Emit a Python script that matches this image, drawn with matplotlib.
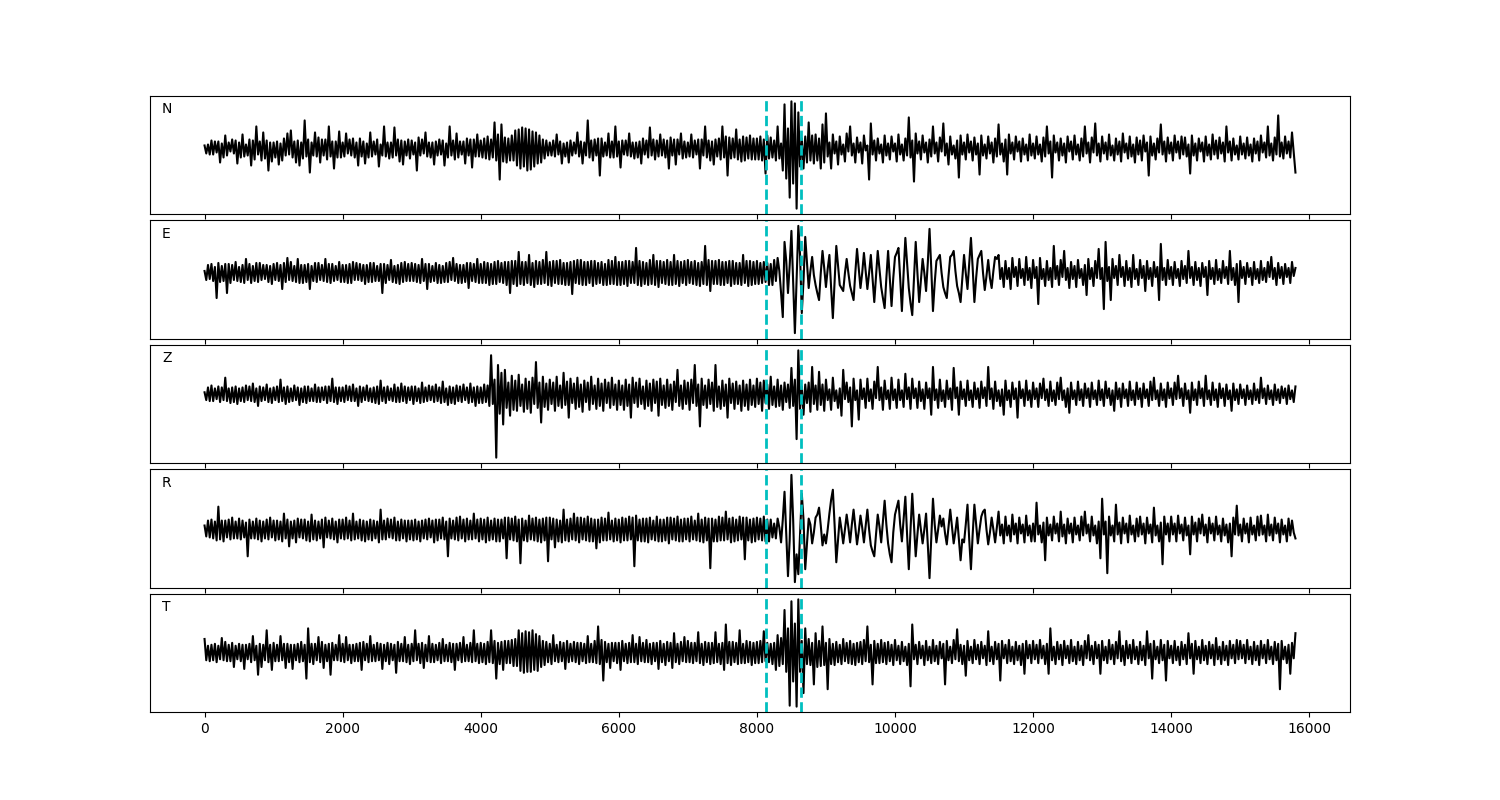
import numpy as np
import matplotlib
matplotlib.use("Agg")
import matplotlib.pyplot as plt

# one sample every 25 points
sample_step = 25
pick_times = [8130, 8635]
channels = ["N", "E", "Z", "R", "T"]

trace_n = [
    3, -5, 4, -6, 8, -6, 7, -4, 7, -14, 5, -9, 13, -7, 6, -3, 9, -5, 8, -15, 6, -9, 14, -8, 4, -7, 9, -17, 8, -11, 22, -6, 7, -12, 16, -10, 8, -22, 6, -13,
    6, -9, 7, -16, 5, -12, 10, -7, 15, -6, 18, -9, 7, -14, 8, -17, 6, -10, 28, -8, 9, -24, 6, -7, 16, -8, 11, -14, 9, -7, 9, -11, 22, -8, 7, -20, 7, -9, 17, -9,
    6, -8, 15, -5, 9, -7, 10, -9, 6, -17, 10, -8, 7, -15, 5, -9, 16, -8, 7, -6, 9, -18, 4, -7, 22, -8, 6, -10, 6, -9, 21, -7, 9, -13, 8, -16, 7, -7, 9, -10,
    8, -6, 6, -22, 11, -7, 9, -5, 16, -8, 6, -9, 6, -16, 7, -7, 9, -6, 8, -17, 5, -9, 22, -7, 8, -11, 15, -9, 7, -6, 7, -15, 10, -7, 9, -19, 9, -8, 14, -8,
    8, -9, 10, -10, 12, -11, 9, -9, 26, -12, 14, -31, 24, -13, 11, -14, 10, -12, 13, -12, 18, -17, 19, -20, 21, -18, 20, -22, 19, -21, 17, -18, 16, -15, 13, -14, 9, -10, 8, -7,
    6, -7, 8, -8, 14, -6, 7, -15, 5, -8, 6, -14, 8, -7, 6, -5, 16, -8, 7, -15, 6, -7, 28, -9, 8, -12, 9, -7, 10, -27, 10, -8, 6, -7, 15, -9, 7, -9, 22, -8,
    7, -19, 8, -6, 8, -7, 15, -8, 6, -10, 6, -9, 7, -15, 10, -6, 8, -9, 21, -7, 9, -11, 8, -8, 14, -7, 9, -9, 8, -20, 11, -7, 9, -16, 9, -6, 15, -10, 7, -9,
    6, -8, 14, -9, 8, -6, 9, -20, 9, -7, 22, -9, 8, -12, 7, -16, 9, -8, 10, -11, 22, -9, 12, -27, 11, -10, 10, -9, 19, -11, 9, -13, 12, -12, 11, -10, 13, -11, 10, -11,
    10, -11, 12, -12, 9, -25, 13, -10, 11, -9, 8, -12, 22, -10, 5, -22, 44, -30, 20, -49, 47, -35, 45, -60, 36, -18, 10, -20, 12, -14, 26, -12, 13, -15, 14, -12, 10, -20, 24, -14,
    35, -8, 6, -20, 14, -5, 7, -16, 12, -6, 4, -13, 15, -3, 22, -7, 5, -14, 11, -4, 6, -15, 13, -2, 3, -31, 25, -6, 8, -12, 10, -5, 4, -14, 13, -7, 5, -11, 12, -3,
    5, -13, 14, -6, 4, -12, 10, -7, 31, -9, 8, -33, 15, -5, 7, -11, 13, -4, 6, -14, 9, -8, 22, -5, 6, -13, 11, -3, 25, -7, 5, -16, 12, -6, 3, -10, 8, -29, 13, -6,
    6, -11, 14, -4, 7, -12, 11, -6, 5, -26, 13, -7, 4, -10, 12, -5, 6, -14, 10, -8, 24, -6, 5, -13, 9, -26, 14, -5, 6, -11, 12, -3, 7, -13, 10, -6, 4, -12, 14, -7,
    5, -10, 12, -6, 4, -13, 11, -8, 22, -5, 7, -29, 13, -4, 6, -12, 10, -7, 5, -14, 12, -3, 7, -11, 13, -6, 4, -12, 10, -8, 22, -5, 6, -14, 11, -4, 25, -7, 5, -13,
    12, -5, 6, -11, 14, -7, 3, -12, 10, -6, 7, -13, 15, -4, 5, -10, 12, -8, 4, -14, 11, -6, 8, -12, 13, -3, 6, -27, 12, -7, 5, -11, 10, -4, 24, -6, 7, -13, 11, -5,
    6, -12, 13, -4, 7, -10, 12, -6, 11, -8, 4, -25, 13, -7, 5, -12, 10, -3, 6, -13, 12, -7, 4, -11, 14, -6, 8, -10, 11, -5, 6, -13, 22, -4, 7, -12, 10, -6, 3, -11,
    12, -6, 5, -10, 11, -7, 4, -13, 10, -5, 7, -12, 13, -4, 6, -9, 22, -7, 5, -12, 11, -6, 33, -8, 6, -10, 12, -5, 7, -9, 16, -4, -24,
]

trace_e = [
    2, -7, 8, -6, 9, -8, 6, -25, 10, -9, 7, -8, 9, -20, 9, -10, 8, -7, 11, -8, 6, -9, 8, -10, 14, -7, 9, -10, 7, -8, 10, -9, 10, -7, 8, -6, 8, -9, 7, -11,
    9, -7, 10, -8, 8, -16, 10, -9, 15, -7, 11, -8, 7, -9, 14, -10, 8, -10, 8, -9, 9, -16, 7, -8, 10, -9, 10, -7, 8, -8, 14, -9, 9, -10, 9, -8, 7, -7, 11, -9,
    8, -9, 8, -10, 9, -10, 11, -7, 10, -7, 9, -8, 8, -11, 8, -9, 10, -9, 10, -8, 7, -8, 9, -20, 9, -10, 8, -7, 13, -9, 7, -10, 8, -11, 10, -9, 11, -8, 9, -8,
    10, -8, 9, -9, 8, -10, 14, -8, 9, -16, 9, -9, 7, -8, 10, -10, 8, -10, 7, -9, 10, -9, 11, -7, 15, -8, 9, -10, 8, -10, 8, -9, 10, -15, 10, -8, 9, -9, 14, -10,
    9, -10, 11, -10, 10, -12, 9, -11, 11, -11, 12, -9, 10, -10, 11, -12, 11, -20, 12, -11, 12, -13, 21, -11, 11, -12, 11, -10, 18, -12, 10, -14, 12, -11, 11, -11, 13, -10, 21, -12,
    11, -13, 12, -10, 12, -11, 13, -11, 10, -12, 10, -12, 11, -21, 12, -10, 13, -11, 13, -12, 11, -12, 11, -10, 12, -13, 12, -11, 10, -10, 11, -12, 9, -12, 13, -11, 12, -11, 16, -12,
    11, -12, 11, -11, 12, -13, 12, -10, 11, -10, 25, -12, 12, -13, 11, -11, 10, -12, 13, -11, 18, -12, 12, -14, 12, -10, 11, -11, 13, -12, 11, -12, 18, -11, 12, -13, 11, -10, 12, -12,
    13, -10, 11, -11, 12, -12, 10, -13, 11, -11, 27, -12, 13, -18, 12, -11, 12, -11, 13, -12, 11, -12, 11, -10, 12, -13, 12, -11, 10, -11, 10, -12, 18, -10, 12, -13, 12, -12, 11, -11,
    12, -11, 10, -10, 11, -9, 10, -12, 9, -12, 13, -8, 15, 2, -20, -44, 31, 12, -20, 8, 42, -10, -60, -5, 47, 18, -40, -8, 36, 10, -15, 2, 16, -2, -12, -20, -27, 0, 22, 5,
    -14, 4, 18, -15, -45, -10, 27, 8, -12, -15, -18, 0, 14, 0, -13, -20, -27, 0, 24, 5, -15, 0, 20, 2, -16, 0, 18, -5, -29, -4, 22, 4, -14, -25, -35, -5, 22, -5, -33, -5,
    16, 20, 25, -5, -38, 0, 35, 10, -15, -30, -42, -5, 31, 0, -29, -8, 14, 0, -18, 10, 44, 5, -38, -10, 12, 15, 18, 0, -14, -20, -25, -3, 16, 18, 22, 2, -13, -20, -29, -5,
    18, 0, -16, 10, 35, 5, -29, -5, 14, 18, 22, 0, -17, -3, 13, -5, -15, 2, 16, 14, 18, -6, 5, -14, 12, -6, 5, -16, 15, -4, 6, -13, 14, -5, 4, -12, 16, -7, 5, -15,
    13, -5, 6, -31, 15, -6, 4, -13, 12, -7, 5, -14, 27, -6, 7, -12, 13, -4, 22, -7, 5, -15, 11, -6, 7, -14, 13, -5, 4, -12, 8, -22, 14, -6, 5, -13, 12, -5, 24, -6,
    5, -36, 31, -8, 6, -27, 14, -5, 7, -12, 18, -4, 6, -13, 12, -7, 5, -14, 18, -6, 4, -12, 13, -5, 7, -18, 12, -6, 5, -13, 11, -4, 6, -27, 29, -7, 5, -12, 13, -6,
    6, -12, 11, -5, 4, -13, 12, -6, 7, -10, 22, -5, 6, -12, 11, -7, 5, -13, 10, -4, 6, -22, 12, -6, 5, -11, 13, -7, 4, -10, 12, -5, 6, -11, 22, -7, 5, -12, 9, -29,
    12, -5, 6, -11, 10, -4, 5, -12, 11, -6, 4, -10, 12, -7, 5, -9, 11, -4, 16, -6, 5, -12, 10, -5, 6, -11, 9, -4, 5, -10, 11, -3, 5,
]

trace_z = [
    2, -6, 7, -7, 9, -7, 6, -5, 8, -8, 7, -6, 17, -7, 6, -9, 7, -8, 8, -10, 6, -7, 7, -8, 9, -6, 8, -7, 11, -8, 6, -12, 8, -7, 7, -6, 10, -8, 6, -9,
    7, -6, 8, -8, 15, -7, 7, -10, 8, -8, 6, -7, 9, -6, 7, -11, 6, -8, 8, -9, 8, -7, 6, -7, 10, -8, 7, -8, 7, -6, 8, -9, 8, -7, 16, -8, 7, -10, 7, -7,
    7, -8, 9, -6, 8, -7, 10, -7, 6, -12, 8, -8, 7, -6, 9, -7, 6, -8, 7, -9, 8, -10, 14, -7, 7, -9, 8, -6, 6, -7, 10, -8, 7, -8, 11, -7, 8, -9, 7, -6,
    8, -10, 8, -7, 6, -9, 12, -8, 7, -7, 9, -6, 8, -8, 10, -7, 7, -9, 13, -8, 6, -11, 8, -9, 7, -10, 9, -7, 8, -8, 10, -6, 7, -9, 11, -8, 7, -12, 8, -9,
    7, -9, 10, -8, 9, -12, 40, -10, 15, -65, 30, -20, 22, -31, 25, -14, 12, -22, 19, -16, 14, -17, 20, -12, 10, -18, 16, -15, 13, -19, 17, -10, 33, -14, 12, -29, 18, -13, 11, -16,
    15, -10, 12, -17, 18, -12, 9, -14, 22, -11, 13, -24, 16, -9, 11, -15, 17, -13, 10, -18, 14, -8, 12, -16, 18, -10, 9, -15, 16, -12, 11, -17, 15, -9, 12, -14, 17, -11, 10, -16,
    14, -11, 9, -16, 15, -12, 10, -24, 17, -9, 12, -13, 16, -10, 8, -15, 14, -12, 11, -17, 15, -9, 13, -22, 16, -11, 9, -14, 15, -12, 10, -16, 13, -8, 25, -12, 9, -15, 14, -10,
    12, -16, 15, -9, 30, -12, 10, -33, 16, -11, 9, -14, 15, -10, 12, -17, 30, -13, 8, -15, 14, -12, 10, -24, 16, -9, 11, -15, 13, -10, 9, -17, 14, -12, 10, -16, 15, -11, 9, -13,
    16, -10, 12, -17, 14, -9, 10, -15, 18, -11, 8, -13, 15, -12, 9, -16, 12, -8, 10, -14, 27, -12, 15, -46, 45, -15, 8, -21, 10, -9, 12, -18, 28, -10, 9, -16, 23, -11, 10, -17,
    15, -6, 5, -16, 17, -7, 4, -14, 6, -22, 25, -5, 12, -8, 7, -33, 16, -6, 4, -26, 15, -5, 6, -14, 16, -7, 5, -15, 13, -4, 28, -6, 7, -16, 14, -5, 4, -15, 17, -6,
    5, -14, 15, -6, 4, -13, 21, -5, 7, -15, 16, -4, 6, -14, 13, -7, 5, -15, 12, -4, 6, -21, 28, -6, 5, -14, 15, -7, 4, -13, 14, -5, 6, -16, 27, -4, 7, -21, 13, -5,
    5, -12, 14, -6, 4, -13, 12, -5, 6, -14, 13, -4, 7, -12, 28, -5, 6, -15, 13, -7, 4, -12, 5, -21, 14, -6, 4, -13, 12, -5, 6, -24, 13, -4, 5, -12, 14, -6, 4, -13,
    12, -5, 6, -13, 11, -4, 16, -6, 5, -12, 13, -7, 4, -11, 12, -5, 17, -6, 4, -13, 6, -19, 12, -5, 4, -11, 13, -6, 5, -12, 11, -4, 6, -13, 12, -5, 4, -11, 14, -6,
    5, -12, 13, -4, 6, -11, 4, -17, 12, -5, 6, -13, 11, -4, 5, -12, 13, -6, 4, -11, 12, -5, 6, -13, 11, -4, 5, -12, 13, -6, 17, -5, 4, -12, 11, -6, 5, -13, 12, -4,
    6, -11, 12, -5, 19, -4, 6, -12, 11, -5, 4, -19, 12, -6, 5, -11, 13, -4, 6, -12, 19, -5, 4, -11, 12, -6, 5, -13, 11, -4, 6, -12, 10, -5, 4, -17, 11, -6, 5, -10,
    10, -4, 5, -11, 9, -5, 4, -10, 11, -6, 5, -9, 17, -4, 6, -10, 9, -5, 4, -11, 10, -6, 5, -9, 8, -4, 6, -10, 9, -5, 4, -8, 8,
]

trace_r = [
    4, -7, 9, -8, 10, -9, 8, -11, 23, -10, 9, -12, 9, -8, 10, -10, 12, -9, 8, -9, 11, -10, 9, -8, 7, -27, 10, -9, 8, -9, 11, -10, 9, -12, 8, -9, 10, -10, 12, -8,
    9, -11, 9, -10, 8, -12, 16, -9, 10, -17, 8, -9, 9, -13, 11, -8, 10, -9, 10, -11, 8, -12, 15, -10, 9, -11, 8, -9, 10, -18, 12, -8, 9, -9, 11, -10, 8, -13, 10, -9,
    10, -10, 12, -9, 9, -11, 16, -10, 8, -9, 10, -11, 9, -12, 8, -10, 10, -11, 9, -9, 8, -13, 20, -10, 9, -10, 11, -8, 10, -9, 12, -11, 8, -11, 10, -9, 9, -12, 9, -10,
    9, -11, 10, -10, 8, -12, 9, -9, 10, -10, 11, -8, 9, -13, 10, -11, 10, -9, 12, -10, 8, -27, 11, -9, 9, -10, 12, -11, 13, -9, 10, -12, 11, -10, 9, -10, 16, -9, 10, -12,
    11, -10, 10, -13, 12, -11, 9, -10, 11, -12, 10, -12, 10, -9, 12, -29, 12, -10, 11, -11, 13, -12, 10, -34, 11, -11, 9, -12, 14, -10, 11, -11, 12, -12, 10, -13, 11, -11, 12, -32,
    12, -10, 11, -18, 10, -12, 9, -13, 20, -11, 10, -12, 11, -10, 16, -11, 12, -13, 12, -10, 11, -11, 13, -12, 11, -12, 10, -19, 10, -13, 12, -11, 11, -11, 17, -10, 9, -12, 11, -11,
    10, -13, 12, -11, 11, -11, 13, -10, 12, -37, 14, -11, 10, -12, 11, -12, 11, -13, 12, -10, 9, -11, 13, -12, 10, -12, 10, -11, 12, -14, 12, -10, 11, -11, 13, -12, 10, -12, 11, -10,
    11, -12, 13, -10, 9, -11, 16, -12, 10, -13, 12, -11, 11, -39, 11, -12, 10, -12, 13, -11, 12, -11, 18, -10, 11, -13, 12, -12, 10, -11, 13, -10, 12, -30, 12, -11, 10, -13, 11, -12,
    12, -10, 11, -11, 13, -12, 10, -12, 10, -8, 6, -9, 11, 2, -13, 10, 38, -5, -47, -10, 55, 10, -53, -25, -45, -5, 36, 10, -40, -15, 11, 5, -14, -3, 12, 15, 22, 4, -16, -5,
    -14, 0, 16, 30, 40, 5, -33, -10, 12, 0, -14, 0, 15, 2, -13, 5, 20, 2, -15, -2, 14, 2, -13, 3, 20, 0, -16, -22, -27, -5, 15, 3, -13, 8, 29, 5, -14, -25, -33, -3,
    15, 22, 29, 5, -12, 10, 33, -5, -40, 0, 36, 5, -27, -5, 15, 0, -14, 0, 16, -15, -49, -10, 31, 5, -13, 0, 14, 3, 11, -4, -15, 2, 20, 3, -14, -2, 12, -10, -31, -10,
    -13, 5, 25, -10, -40, -5, 25, 5, -14, 0, 13, 18, 20, 0, -15, -3, 12, 0, -13, 2, 18, -6, 5, -14, 13, -6, 4, -12, 15, -5, 6, -14, 12, -4, 5, -13, 14, -6, 4, -12,
    6, -12, 27, -5, 4, -13, 7, -31, 12, -6, 5, -11, 13, -4, 6, -12, 18, -7, 5, -14, 11, -4, 6, -13, 12, -5, 4, -11, 13, -6, 18, -4, 5, -12, 13, -6, 4, -14, 8, -29,
    31, -5, 8, -44, 13, -6, 4, -12, 25, -5, 7, -14, 12, -4, 6, -13, 14, -5, 4, -12, 11, -7, 13, -5, 6, -14, 12, -4, 5, -13, 22, -6, 4, -12, 7, -35, 13, -5, 6, -12,
    13, -5, 6, -12, 14, -4, 5, -11, 12, -6, 4, -25, 13, -5, 7, -12, 11, -4, 15, -6, 5, -13, 12, -4, 6, -11, 13, -5, 4, -12, 11, -6, 5, -13, 6, -27, 12, -5, 24, -6,
    5, -12, 11, -4, 6, -13, 12, -5, 4, -11, 13, -6, 14, -5, 4, -12, 15, -6, 5, -11, 12, -4, 6, -13, 10, -5, 4, -12, 11, -6, 9, -3, -9,
]

trace_t = [
    14, -8, 7, -9, 8, -8, 9, -10, 7, -7, 15, -8, 11, -9, 8, -9, 10, -15, 7, -7, 9, -9, 8, -17, 8, -7, 9, -10, 17, -8, 7, -23, 9, -15, 8, -8, 23, -10, 8, -18,
    10, -9, 8, -9, 17, -8, 9, -16, 9, -10, 8, -17, 8, -8, 9, -10, 11, -9, 8, -27, 25, -10, 9, -12, 9, -8, 16, -10, 11, -16, 8, -9, 9, -23, 10, -8, 8, -8, 18, -9,
    9, -10, 16, -8, 8, -11, 8, -9, 9, -9, 10, -18, 11, -8, 9, -10, 17, -9, 8, -9, 10, -8, 9, -17, 8, -9, 10, -12, 9, -8, 8, -21, 11, -9, 9, -9, 16, -10, 8, -12,
    9, -9, 23, -8, 9, -11, 10, -16, 8, -9, 17, -10, 9, -10, 8, -8, 10, -11, 14, -9, 8, -9, 10, -10, 9, -18, 9, -8, 10, -10, 16, -9, 8, -9, 10, -10, 23, -9, 9, -11,
    10, -10, 9, -12, 11, -10, 23, -11, 12, -27, 10, -12, 11, -18, 12, -11, 12, -11, 13, -14, 14, -14, 23, -19, 20, -21, 22, -20, 21, -20, 23, -18, 19, -19, 17, -15, 12, -13, 11, -10,
    9, -12, 18, -9, 8, -10, 11, -9, 10, -17, 12, -10, 9, -9, 11, -10, 10, -12, 10, -9, 9, -11, 17, -10, 9, -10, 12, -11, 27, -12, 13, -29, 11, -10, 9, -16, 10, -9, 10, -11,
    10, -18, 12, -9, 9, -11, 10, -10, 18, -10, 9, -12, 16, -9, 10, -10, 13, -10, 9, -12, 10, -9, 10, -17, 12, -10, 9, -13, 11, -9, 10, -16, 20, -10, 9, -12, 11, -9, 16, -10,
    12, -10, 10, -11, 10, -9, 21, -11, 9, -13, 11, -10, 10, -12, 10, -11, 21, -10, 9, -12, 10, -18, 29, -11, 11, -13, 11, -10, 10, -12, 23, -11, 9, -11, 12, -10, 11, -13, 10, -11,
    11, -11, 12, -10, 22, -9, 10, -10, 9, -12, 10, -18, 18, -14, 15, -12, 44, -20, 25, -55, 53, -30, 30, -56, 55, -20, 12, -42, 25, -12, 14, -13, 10, -33, 20, -15, 12, -14, 27, -13,
    10, -38, 14, -12, 9, -13, 11, -10, 8, -12, 14, -9, 10, -11, 12, -12, 9, -13, 10, -10, 11, -12, 13, -9, 27, -10, 8, -33, 12, -11, 9, -11, 13, -10, 10, -12, 11, -9, 8, -13,
    13, -8, 7, -12, 11, -9, 6, -13, 9, -35, 29, -7, 8, -12, 11, -6, 7, -13, 12, -8, 6, -11, 13, -9, 7, -12, 11, -6, 9, -33, 12, -8, 6, -11, 13, -7, 24, -9, 8, -12,
    7, -24, 12, -8, 6, -11, 13, -7, 8, -12, 11, -6, 7, -13, 22, -9, 6, -12, 11, -7, 9, -29, 12, -6, 8, -11, 13, -9, 6, -12, 11, -8, 7, -13, 9, -22, 12, -6, 8, -11,
    12, -7, 8, -11, 13, -6, 7, -12, 9, -22, 25, -8, 6, -12, 11, -7, 8, -13, 12, -6, 7, -11, 13, -9, 6, -12, 11, -8, 7, -13, 12, -6, 18, -8, 7, -12, 11, -6, 8, -22,
    12, -8, 6, -11, 13, -7, 8, -12, 11, -6, 22, -9, 7, -13, 12, -6, 8, -11, 13, -7, 6, -12, 11, -8, 7, -13, 22, -6, 9, -27, 12, -7, 6, -11, 13, -8, 8, -29, 12, -6,
    7, -11, 12, -8, 6, -13, 11, -7, 8, -12, 20, -6, 9, -22, 12, -7, 6, -11, 13, -8, 7, -12, 11, -6, 8, -13, 15, -7, 6, -12, 11, -8, 7, -13, 12, -6, 8, -11, 13, -7,
    12, -6, 8, -11, 13, -7, 6, -12, 11, -8, 7, -13, 12, -6, 8, -11, 13, -7, 6, -12, 11, -8, 9, -38, 12, -7, 6, -11, 8, -22, 10, -6, 20,
]

traces = [trace_n, trace_e, trace_z, trace_r, trace_t]

fig, axs = plt.subplots(5, 1, figsize=(15, 8), sharex=True)
plt.subplots_adjust(left=0.1, right=0.9, top=0.88, bottom=0.11, hspace=0.055)

for ax, name, trace in zip(axs, channels, traces):
    t = np.arange(len(trace)) * sample_step
    ax.plot(t, trace, color="k", lw=1.5)
    for p in pick_times:
        ax.axvline(p, color="c", ls="--", lw=2)
    ax.set_yticks([])
    ax.text(0.01, 0.855, name, transform=ax.transAxes, fontsize=10)

plt.savefig("out.png", dpi=100)
